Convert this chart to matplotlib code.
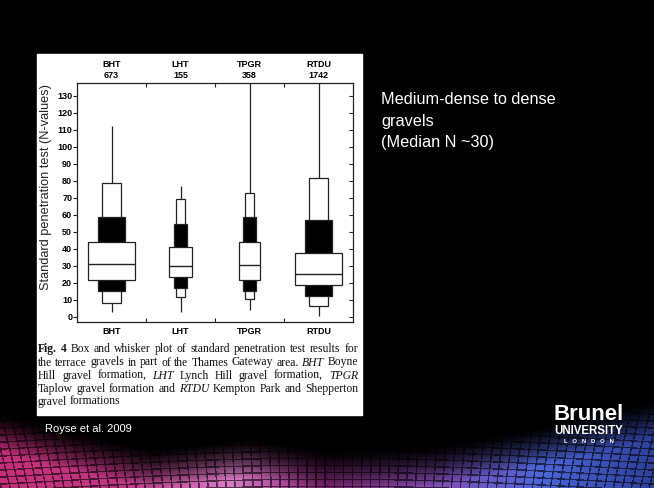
import numpy as np
import matplotlib.pyplot as plt

# box plot values (SPT N-values)
groups = ['BHT', 'LHT', 'TPGR', 'RTDU']
counts = [673, 155, 358, 1742]
whisker_lo = [2.9, 2.9, 3.9, 0.4]
whisker_hi = [112, 77, 150, 150]
p5 = [8.2, 11.8, 10.2, 6.3]
p10 = [15.3, 16.8, 15.3, 12.2]
p25 = [21.6, 23.2, 21.6, 18.5]
median = [31.0, 30.1, 30.6, 25.1]
p75 = [43.9, 41.2, 44.1, 37.3]
p90 = [58.8, 54.5, 58.8, 56.9]
p95 = [78.8, 69.0, 72.9, 81.4]

# box widths (data units) for the three nested boxes
wide_w = [0.69, 0.32, 0.31, 0.68]
black_w = [0.38, 0.195, 0.195, 0.39]
narrow_w = [0.28, 0.12, 0.14, 0.27]

caption = [
    "!Fig. !4 Box and whisker plot of standard penetration test results for",
    "the terrace gravels in part of the Thames Gateway area. *BHT Boyne",
    "Hill gravel formation, *LHT Lynch Hill gravel formation, *TPGR",
    "Taplow gravel formation and *RTDU Kempton Park and Shepperton",
    "gravel formations",
]

W, H = 654, 488
fig = plt.figure(figsize=(W / 100, H / 100), dpi=100)
fig.patch.set_facecolor('black')

# slide background: black with coloured tiled band at the bottom
bg = fig.add_axes([0, 0, 1, 1], zorder=-10)
yy, xx = np.mgrid[0:H, 0:W].astype(float)
sx = [0, 120, 230, 320, 430, 540, 654]
r = np.interp(xx, sx, [0.78, 0.75, 0.85, 0.55, 0.52, 0.30, 0.18])
g = np.interp(xx, sx, [0.18, 0.22, 0.48, 0.16, 0.30, 0.40, 0.25])
b = np.interp(xx, sx, [0.48, 0.52, 0.78, 0.48, 0.70, 0.85, 0.60])
ytop = np.interp(xx, [0, 60, 150, 250, 330, 430, 520, 600, 654],
                 [412, 428, 448, 438, 450, 446, 430, 412, 398])
fade = np.clip((yy - ytop) / 40, 0, 1) ** 1.4
gx = (xx + 0.25 * (yy - H) * (xx - 330) / 330) % 9
gy = (yy + 12 * np.sin(xx / W * np.pi)) % 7
grid = np.where((gx < 1.5) | (gy < 1.4), 0.4, 1.0)
img = np.dstack([r, g, b]) * (fade * grid)[..., None]
bg.imshow(img, extent=[0, W, H, 0], aspect='auto', interpolation='bilinear')
bg.set_xlim(0, W)
bg.set_ylim(H, 0)
bg.axis('off')

# white panel of the journal figure
fig.patches.append(plt.Rectangle((36.7 / W, 1 - 415 / H), 325 / W, 361 / H,
                                 transform=fig.transFigure, color='white', zorder=-5))

ax = fig.add_axes([77 / W, 1 - 322 / H, 276 / W, 239 / H])
pos = np.arange(1, len(groups) + 1)
lc = '#222222'
ax.vlines(pos, whisker_lo, whisker_hi, color=lc, lw=0.9, zorder=1)
ax.bar(pos, np.subtract(p95, p5), width=narrow_w, bottom=p5,
       color='white', edgecolor=lc, lw=0.9, zorder=2)
ax.bar(pos, np.subtract(p90, p10), width=black_w, bottom=p10,
       color='black', edgecolor=lc, lw=0.9, zorder=3)
ax.bar(pos, np.subtract(p75, p25), width=wide_w, bottom=p25,
       color='white', edgecolor=lc, lw=0.9, zorder=4)
ax.hlines(median, pos - np.array(wide_w) / 2, pos + np.array(wide_w) / 2,
          color=lc, lw=1.0, zorder=5)

ax.set_xlim(0.5, 4.5)
ax.set_ylim(-3.1, 137.5)
for s in ax.spines.values():
    s.set_color(lc)
    s.set_linewidth(0.9)

tick_font = dict(family='Liberation Sans', weight='bold', size=6.5)
yt = np.arange(0, 131, 10)
ax.set_yticks(yt)
ax.set_yticklabels([str(v) for v in yt], **tick_font)
ax.tick_params(axis='y', direction='out', length=3, width=0.8, pad=0.5, color=lc)
sec_y = ax.secondary_yaxis('right')
sec_y.set_yticks(yt)
sec_y.tick_params(direction='in', length=3, width=0.8, labelright=False, color=lc)
sec_y.spines['right'].set_visible(False)

ax.set_xticks([1.5, 2.5, 3.5])
ax.tick_params(axis='x', which='major', direction='in', length=3, width=0.8,
               top=True, bottom=True, labelbottom=False, color=lc)
ax.set_xticks(pos, minor=True)
ax.set_xticklabels(groups, minor=True, **tick_font)
ax.tick_params(axis='x', which='minor', length=0, pad=3.5)
sec_x = ax.secondary_xaxis('top')
sec_x.set_xticks(pos)
sec_x.set_xticklabels([f'{gname}\n{n}' for gname, n in zip(groups, counts)], **tick_font)
sec_x.tick_params(length=0, pad=2.5)
sec_x.spines['top'].set_visible(False)

fig.text(46 / W, 1 - 187 / H, 'Standard penetration test (N-values)', rotation=90,
         family='Liberation Sans', size=9.2, color='#222222', ha='center', va='center')

# justified caption in serif type
renderer = fig.canvas.get_renderer()
x0, x1 = 38, 358
baselines = [352, 365.5, 379, 392, 404.5]
for k, (line, yb) in enumerate(zip(caption, baselines)):
    texts = []
    for w in line.split(' '):
        kw = dict(family='Liberation Serif', size=8.4, color='#111111', va='baseline')
        if w.startswith('!'):
            w, kw['weight'] = w[1:], 'bold'
        elif w.startswith('*'):
            w, kw['style'] = w[1:], 'italic'
        texts.append(fig.text(0, 1 - yb / H, w, **kw))
    widths = [t.get_window_extent(renderer).width for t in texts]
    if k < len(caption) - 1:
        gap = (x1 - x0 - sum(widths)) / (len(texts) - 1)
    else:
        gap = 2.9
    x = x0
    for t, wd in zip(texts, widths):
        t.set_x(x / W)
        x += wd + gap

fig.text(381 / W, 1 - 92 / H, 'Medium-dense to dense\ngravels\n(Median N ~30)',
         family='Liberation Sans', size=11.7, color='white', va='top', ha='left',
         linespacing=1.55)
fig.text(45 / W, 1 - 431.5 / H, 'Royse et al. 2009', family='Liberation Sans',
         size=8, color='white', va='baseline')

# Brunel logo (text)
fig.text(589 / W, 1 - 420.5 / H, 'Brunel', family='Liberation Sans', weight='bold',
         size=16, color='white', ha='center', va='baseline')
fig.text(589 / W, 1 - 434.5 / H, 'UNIVERSITY', family='Liberation Sans', weight='bold',
         size=8.3, color='white', ha='center', va='baseline')
fig.text(589 / W, 1 - 443 / H, 'L   O   N   D   O   N', family='Liberation Sans',
         weight='bold', size=4.2, color='white', ha='center', va='baseline')

fig.savefig('out.png', dpi=100, facecolor='black')
